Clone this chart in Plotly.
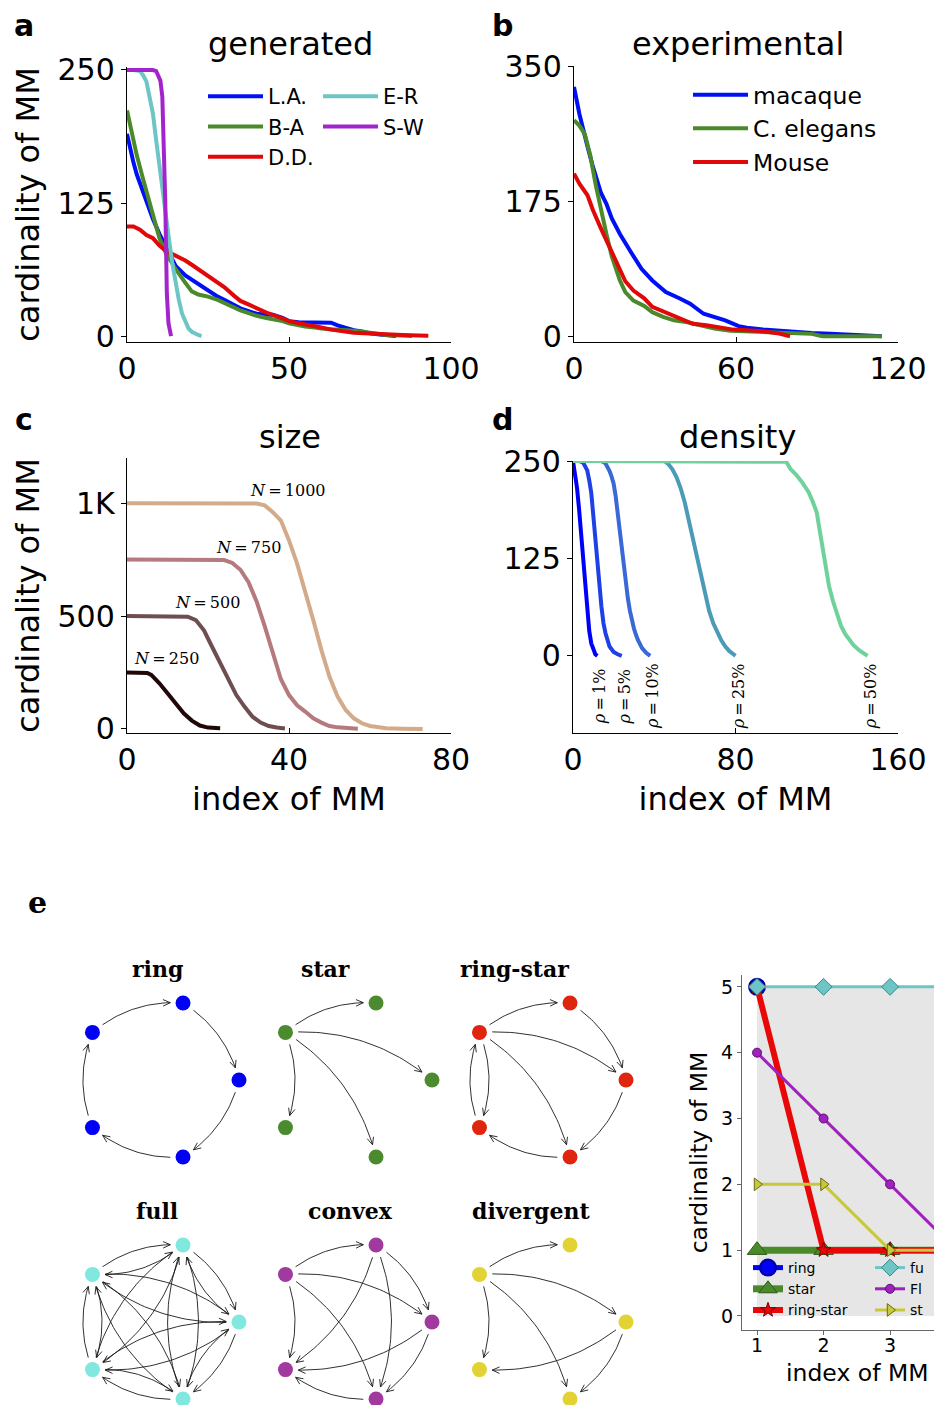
import math
import plotly.graph_objects as go

W, H = 934, 1405

# ---------------- data ----------------
# panel a : generated networks
la_x = [0, 1, 2, 3, 5, 8, 10, 12, 15, 18, 20, 22, 25, 28, 30, 33, 35, 38, 40, 43, 45, 48, 50, 53, 55, 58, 60, 63, 65, 68, 70, 73, 75, 78, 80, 83]
la_y = [190, 175, 163, 152, 135, 110, 96, 84, 66, 57, 53, 48, 43, 37, 34, 29, 26, 23, 21, 20, 20, 17, 14, 13, 13, 13, 12.5, 12.5, 10, 7, 5.5, 4, 2.5, 1.5, 1, 0]
ba_x = [0, 1, 2, 3, 5, 8, 10, 12, 15, 18, 20, 22, 25, 28, 30, 33, 35, 38, 40, 43, 45, 48, 50, 53, 55, 58, 60, 65, 70, 75, 80, 85, 88]
ba_y = [212, 198, 184, 170, 147, 115, 92, 78, 63, 50, 42, 39, 37, 34, 31, 27, 24, 21, 19, 17, 16, 14, 12, 10, 9, 8, 7, 6, 5, 3, 1, 0.5, 0]
dd_x = [0, 2, 4, 6, 8, 10, 12, 15, 18, 20, 22, 25, 28, 30, 33, 35, 38, 40, 43, 45, 48, 50, 53, 55, 58, 60, 63, 65, 68, 70, 75, 80, 85, 90, 93]
dd_y = [103, 103, 100, 95, 92, 85, 80, 76, 71, 67, 63, 57, 50, 46, 38, 33, 29, 26, 22, 20, 16, 14, 12, 11, 9, 8, 6, 5, 4, 3, 2.5, 1.5, 1, 0.5, 0.3]
er_x = [0, 2, 4, 5, 6, 7, 8, 9, 10, 11, 12, 13, 14, 15, 16, 17, 18, 19, 20, 21, 22, 23]
er_y = [250, 250, 249, 245, 239, 225, 209, 184, 159, 134, 112, 90, 68, 50, 34, 21, 13, 7, 4, 2, 1, 0]
sw_x = [0, 4, 8, 9, 10.3, 10.9, 11.3, 11.8, 12.3, 12.8, 13.6]
sw_y = [250, 250, 250, 249, 240, 225, 190, 128, 40, 12, 0]

# panel b : experimental networks
mac_x = [0, 2, 5, 7, 10, 12, 14, 17, 21, 25, 29, 34, 39, 43, 48, 52, 56, 61, 64, 70, 76, 82, 88, 95, 101, 107, 114]
mac_y = [323, 288, 246, 220, 186, 172, 153, 133, 110, 88, 73, 58, 50, 43, 30, 26, 21.5, 14, 12, 9.5, 7.7, 6.5, 5, 4, 3, 2, 1]
ele_x = [0, 2, 4, 6, 8, 10, 12, 14, 17, 19, 22, 26, 29, 33, 37, 42, 47, 52, 58, 64, 76, 88, 92, 101, 114]
ele_y = [280, 273, 262, 235, 197, 162, 133, 104, 73, 58, 47, 40, 32, 26, 21.5, 19, 15, 11, 8, 7, 5.6, 4, 1, 1, 1]
mou_x = [0, 2, 5, 7, 10, 12, 14, 17, 19, 22, 26, 29, 34, 39, 44, 49, 54, 59, 64, 70, 76, 80]
mou_y = [211, 198, 183, 164, 140, 125, 110, 86, 72, 60, 50, 39, 32, 24, 17, 15, 12, 9.5, 8.6, 7.3, 4.3, 1]

# panel c : size
n250_x = [0, 2, 4, 5, 6, 8, 10, 12, 14, 16, 18, 20, 23]
n250_y = [250, 250, 250, 248, 239, 202, 158, 110, 69, 37, 15, 6, 3]
n500_x = [0, 5, 10, 15, 17, 19, 21, 23, 25, 27, 29, 31, 33, 35, 37, 39]
n500_y = [500, 500, 500, 497, 482, 437, 364, 290, 216, 150, 99, 54, 28, 13, 6, 2]
n750_x = [0, 5, 10, 15, 20, 24, 26, 28, 30, 32, 34, 36, 38, 40, 42, 44, 46, 48, 50, 52, 55, 57]
n750_y = [750, 750, 750, 750, 750, 748, 735, 705, 650, 565, 455, 330, 220, 150, 105, 77, 47, 28, 13, 7, 3, 1]
n1000_x = [0, 10, 20, 30, 32, 34, 36, 38, 40, 42, 44, 46, 48, 50, 52, 54, 56, 58, 60, 64, 68, 73]
n1000_y = [1000, 1000, 1000, 1000, 998, 990, 960, 923, 835, 732, 614, 482, 349, 231, 143, 84, 47, 25, 13, 3, 1, 0]
size_labels = ["<i>N</i>\u2009=\u2009250", "<i>N</i>\u2009=\u2009500", "<i>N</i>\u2009=\u2009750", "<i>N</i>\u2009=\u20091000"]

# panel d : density
r1_x = [0, 1, 2, 3, 4, 5, 6, 7, 8, 9, 10, 11, 12]
r1_y = [250, 236, 215, 188, 155, 118, 85, 55, 32, 16, 7, 2, 0]
r5_x = [0, 3, 5, 7, 8, 9, 10, 11, 12, 13, 14, 15, 16, 18, 20, 22, 24]
r5_y = [250, 250, 248, 238, 225, 209, 180, 150, 115, 88, 63, 42, 29, 12, 5, 2, 0]
r10_x = [0, 14, 16, 17, 18, 19, 20, 21, 22, 23, 24, 25, 26, 27, 28, 29, 30, 31, 32, 34, 36, 38]
r10_y = [250, 250, 247, 243, 237, 230, 221, 205, 183, 160, 135, 112, 92, 74, 58, 45, 35, 27, 20, 10, 4, 0]
r25_x = [0, 45, 47, 49, 51, 53, 55, 57, 59, 61, 63, 65, 67, 69, 71, 73, 75, 77, 79, 80]
r25_y = [250, 250, 246, 239, 229, 215, 197, 173, 148, 127, 102, 78, 58, 42, 30, 20, 12, 6, 2, 0]
r50_x = [0, 104, 105, 107, 110, 113, 116, 118, 120, 121, 122, 123, 124, 125, 126, 128, 130, 132, 134, 136, 138, 141, 143, 145]
r50_y = [250, 250, 249, 240, 232, 222, 210, 198, 184, 168, 152, 138, 123, 105, 90, 70, 52, 38, 28, 20, 14, 7, 3, 0]
density_labels = ["<i>\u03c1</i>\u2009=\u20091%", "<i>\u03c1</i>\u2009=\u20095%", "<i>\u03c1</i>\u2009=\u200910%",
                  "<i>\u03c1</i>\u2009=\u200925%", "<i>\u03c1</i>\u2009=\u200950%"]

# panel e : motif networks (5 nodes each) and their MM cardinalities
motif_names = ["ring", "star", "ring-star", "full", "convex", "divergent"]
motif_edges = {
    "ring": [(0, 1), (1, 2), (2, 3), (3, 4), (4, 0)],
    "star": [(0, 1), (0, 2), (0, 3), (0, 4)],
    "ring-star": [(0, 1), (1, 2), (2, 3), (3, 4), (4, 0), (0, 2), (0, 3), (0, 4)],
    "full": [(i, j) for i in range(5) for j in range(5) if i != j],
    "convex": [(0, 1), (0, 2), (0, 3), (0, 4), (1, 2), (1, 3), (1, 4), (2, 3), (2, 4), (3, 4)],
    "divergent": [(0, 1), (0, 2), (0, 3), (0, 4), (2, 3), (2, 4)],
}
ring_x, ring_y = [1], [5]
star_x, star_y = [1, 2, 3, 4], [1, 1, 1, 1]
rs_x, rs_y = [1, 2, 3, 4], [5, 1, 1, 1]
full_x, full_y = [1, 2, 3, 4, 5], [5, 5, 5, 5, 5]
conv_x, conv_y = [1, 2, 3, 4], [4, 3, 2, 1]
div_x, div_y = [1, 2, 3, 4], [2, 2, 1, 1]
e_legend_names = ["ring", "star", "ring-star", "fu", "Fl", "st"]

# ---------------- helpers ----------------
SANS = "DejaVu Sans"
SERIF = "DejaVu Serif"


def dx(p0, p1):
    return [p0 / W, p1 / W]


def dy(top, bottom):
    return [1 - bottom / H, 1 - top / H]


fig = go.Figure()


def line(x, y, color, name, xa, ya, width=4, legend=None, show=True):
    fig.add_trace(go.Scatter(x=x, y=y, mode="lines", name=name,
                             line=dict(color=color, width=width),
                             xaxis=xa, yaxis=ya, showlegend=show and legend is not None,
                             legend=legend if legend else "legend", hoverinfo="skip"))


# panel a
line(la_x, la_y, "#0010f5", "L.A.", "x", "y", legend="legend")
line(ba_x, ba_y, "#4b8a2b", "B-A", "x", "y", legend="legend")
line(dd_x, dd_y, "#e00808", "D.D.", "x", "y", legend="legend")
line(er_x, er_y, "#6ec5c5", "E-R", "x", "y", legend="legend2")
line(sw_x, sw_y, "#a424cc", "S-W", "x", "y", legend="legend2")
# panel b
line(mac_x, mac_y, "#0010f5", "macaque", "x2", "y2", legend="legend3")
line(ele_x, ele_y, "#4b8a2b", "C. elegans", "x2", "y2", legend="legend3")
line(mou_x, mou_y, "#e00808", "Mouse", "x2", "y2", legend="legend3")
# panel c
size_series = [(n250_x, n250_y, "#200808"), (n500_x, n500_y, "#6f4e50"),
               (n750_x, n750_y, "#b47a7e"), (n1000_x, n1000_y, "#d3ab8a")]
for (sx, sy, col), lab in zip(size_series, size_labels):
    line(sx, sy, col, lab, "x3", "y3", legend=None, show=False)
# panel d
dens_series = [(r1_x, r1_y, "#0000f8"), (r5_x, r5_y, "#1f40e6"), (r10_x, r10_y, "#3a68d6"),
               (r25_x, r25_y, "#4a9ab8"), (r50_x, r50_y, "#6fd29a")]
for (sx, sy, col), lab in zip(dens_series, density_labels):
    line(sx, sy, col, lab, "x4", "y4", legend=None, show=False)

# panel e networks (pixel-like coordinate system, circular layout)
node_angles = [144, 72, 0, -72, 216]
grid_cx = [158, 351, 545]
grid_cy = [1080, 1322]
radius = 81
motif_colors = {"ring": "#0000f5", "star": "#4b8a2f", "ring-star": "#e0250e",
                "full": "#80e8de", "convex": "#a13a9f", "divergent": "#e2d234"}
title_x = {"ring": 157, "star": 325, "ring-star": 514, "full": 157, "convex": 350, "divergent": 531}

annotations = []
for k, name in enumerate(motif_names):
    cx = grid_cx[k % 3]
    cy = grid_cy[k // 3]
    pos = [(cx + radius * math.cos(math.radians(a)), cy - radius * math.sin(math.radians(a)))
           for a in node_angles]
    ex, ey = [], []
    for u, v in motif_edges[name]:
        (x0, y0), (x2, y2) = pos[u], pos[v]
        ddx, ddy = x2 - x0, y2 - y0
        L = math.hypot(ddx, ddy)
        qx, qy = (x0 + x2) / 2 + 0.2 * ddy, (y0 + y2) / 2 - 0.2 * ddx
        t0, t1 = 12 / L, 1 - 12 / L
        n = 30
        for i in range(n + 1):
            t = t0 + (t1 - t0) * i / n
            ex.append((1 - t) ** 2 * x0 + 2 * (1 - t) * t * qx + t * t * x2)
            ey.append((1 - t) ** 2 * y0 + 2 * (1 - t) * t * qy + t * t * y2)
        ex.append(None)
        ey.append(None)
        hx, hy = ex[-2], ey[-2]
        tx = 2 * (1 - t1) * (qx - x0) + 2 * t1 * (x2 - qx)
        ty = 2 * (1 - t1) * (qy - y0) + 2 * t1 * (y2 - qy)
        base = math.atan2(ty, tx) + math.pi
        for s in (1, -1):
            ang = base + s * 0.42
            ex += [hx, hx + 8 * math.cos(ang), None]
            ey += [hy, hy + 8 * math.sin(ang), None]
    fig.add_trace(go.Scatter(x=ex, y=ey, mode="lines", line=dict(color="#1a1a1a", width=0.9),
                             xaxis="x5", yaxis="y5", showlegend=False, hoverinfo="skip"))
    fig.add_trace(go.Scatter(x=[p[0] for p in pos], y=[p[1] for p in pos], mode="markers",
                             marker=dict(size=15, color=motif_colors[name], line=dict(width=0)),
                             xaxis="x5", yaxis="y5", showlegend=False, hoverinfo="skip"))
    annotations.append(dict(x=title_x[name], y=cy - 111, xref="x5", yref="y5", text="<b>%s</b>" % name,
                            showarrow=False, font=dict(family=SERIF, size=22, color="black"),
                            xanchor="center", yanchor="middle"))

# panel e chart
e_series = [
    (ring_x, ring_y, "#0000f5", 5, "circle", 16, "#0000a0", 2),
    (star_x, star_y, "#4b8a2b", 7, "triangle-up", 17, "#2c5a18", 1),
    (rs_x, rs_y, "#e80808", 6, "star", 11, "#800000", 1),
    (full_x, full_y, "#6ec5c5", 3, "diamond", 13, "#3a8585", 1),
    (conv_x, conv_y, "#a020c0", 3, "circle", 9, "#5a1070", 1),
    (div_x, div_y, "#c8c83a", 3, "triangle-right", 11, "#6a6a10", 1),
]
for i, ((sx, sy, col, lw, sym, ms, ec, ew), nm) in enumerate(zip(e_series, e_legend_names)):
    fig.add_trace(go.Scatter(x=sx, y=sy, mode="lines+markers", name=nm,
                             line=dict(color=col, width=lw),
                             marker=dict(symbol=sym, size=ms, color=col, line=dict(color=ec, width=ew)),
                             xaxis="x6", yaxis="y6", legend="legend4" if i < 3 else "legend5",
                             hoverinfo="skip"))

# ---------------- axes ----------------
def ax_style(**kw):
    d = dict(showline=True, linecolor="black", linewidth=1.4, showgrid=False, zeroline=False,
             ticks="outside", ticklen=5, tickwidth=1.2, tickcolor="black",
             tickfont=dict(family=SANS, size=30, color="black"), fixedrange=True)
    d.update(kw)
    return d


layout_axes = dict(
    xaxis=ax_style(domain=dx(127, 451), range=[0, 100], anchor="y", tickvals=[0, 50, 100], ticks="inside"),
    yaxis=ax_style(domain=dy(67, 342), range=[-5.6, 252.8], anchor="x", tickvals=[0, 125, 250],
                   title=dict(text="cardinality of MM", font=dict(family=SANS, size=32, color="black"), standoff=8)),
    xaxis2=ax_style(domain=dx(574, 898), range=[0, 120], anchor="y2", tickvals=[0, 60, 120], ticks="inside"),
    yaxis2=ax_style(domain=dy(66, 342), range=[-6.5, 350], anchor="x2", tickvals=[0, 175, 350]),
    xaxis3=ax_style(domain=dx(127, 451), range=[0, 80], anchor="y3", tickvals=[0, 40, 80], ticks="inside",
                    title=dict(text="index of MM", font=dict(family=SANS, size=32, color="black"), standoff=11)),
    yaxis3=ax_style(domain=dy(458, 733), range=[-18, 1200], anchor="x3", tickvals=[0, 500, 1000],
                    ticktext=["0", "500", "1K"],
                    title=dict(text="cardinality of MM", font=dict(family=SANS, size=32, color="black"), standoff=8)),
    xaxis4=ax_style(domain=dx(573, 898), range=[0, 160], anchor="y4", tickvals=[0, 80, 160], ticks="inside",
                    title=dict(text="index of MM", font=dict(family=SANS, size=32, color="black"), standoff=11)),
    yaxis4=ax_style(domain=dy(461, 733), range=[-99, 250], anchor="x4", tickvals=[0, 125, 250]),
    xaxis5=dict(domain=dx(0, 660), range=[0, 660], anchor="y5", visible=False, fixedrange=True),
    yaxis5=dict(domain=dy(940, 1405), range=[1405, 940], anchor="x5", visible=False, fixedrange=True),
    xaxis6=ax_style(domain=dx(742, 934), range=[0.774, 3.66], anchor="y6", tickvals=[1, 2, 3],
                    linecolor="#666666", tickcolor="#666666", ticklen=4, ticklabelstandoff=-6,
                    tickfont=dict(family=SANS, size=19, color="black")),
    yaxis6=ax_style(domain=dy(975, 1330), range=[-0.213, 5.18], anchor="x6", tickvals=[0, 1, 2, 3, 4, 5],
                    linecolor="#666666", tickcolor="#666666", ticklen=4,
                    tickfont=dict(family=SANS, size=19, color="black"),
                    title=dict(text="cardinality of MM", font=dict(family=SANS, size=23.5, color="black"), standoff=6)),
)

# ---------------- text ----------------
def txt(text, x, y, size, family=SANS, bold=False, xref="paper", yref="paper", angle=0, px=True):
    if px:
        x, y = x / W, 1 - y / H
    annotations.append(dict(x=x, y=y, xref=xref, yref=yref, text="<b>%s</b>" % text if bold else text,
                            showarrow=False, textangle=angle, xanchor="center", yanchor="middle",
                            font=dict(family=family, size=size, color="black")))


txt("a", 24, 25, 30, bold=True)
txt("b", 503, 25, 30, bold=True)
txt("c", 24, 420, 30, bold=True)
txt("d", 503, 420, 30, bold=True)
txt("e", 37, 902, 30, family=SERIF, bold=True)
txt("generated", 290, 44, 32)
txt("experimental", 738, 44, 32)
txt("size", 290, 437, 32)
txt("density", 737, 437, 32)
txt("index of MM", 857, 1373, 23.5)

size_label_pos = [(9.8, 310), (19.8, 558), (29.9, 805), (39.8, 1058)]
for lab, (lx, ly) in zip(size_labels, size_label_pos):
    txt(lab, lx, ly, 16, family=SERIF, xref="x3", yref="y3", px=False)
for lab, (sx, sy, col) in zip(density_labels, dens_series):
    txt(lab, sx[-1] + 1.2, -52, 16, family=SERIF, xref="x4", yref="y4", angle=-90, px=False)

shapes = [dict(type="rect", xref="x6", yref="y6", x0=1, x1=6, y0=0, y1=5,
               fillcolor="#e6e6e6", line=dict(width=0), layer="below")]


def leg(x, y, size, iw=30):
    return dict(x=x / W, y=1 - y / H, xanchor="left", yanchor="top", bgcolor="rgba(0,0,0,0)",
                font=dict(family=SANS, size=size, color="black"), itemwidth=iw,
                itemclick=False, itemdoubleclick=False)


fig.update_layout(
    width=W, height=H,
    margin=dict(l=0, r=0, t=0, b=0, autoexpand=False),
    paper_bgcolor="white", plot_bgcolor="rgba(0,0,0,0)",
    font=dict(family=SANS, color="black"),
    annotations=annotations, shapes=shapes,
    legend=leg(203, 76, 21, 55), legend2=leg(318, 76, 21, 55), legend3=leg(688, 73, 23.5, 55),
    legend4=leg(748, 1252, 14), legend5=leg(870, 1252, 14),
    **layout_axes,
)

fig.write_html("out.html", config={"displayModeBar": False},
               post_script="document.body.style.margin='0';document.body.style.overflow='hidden';")
